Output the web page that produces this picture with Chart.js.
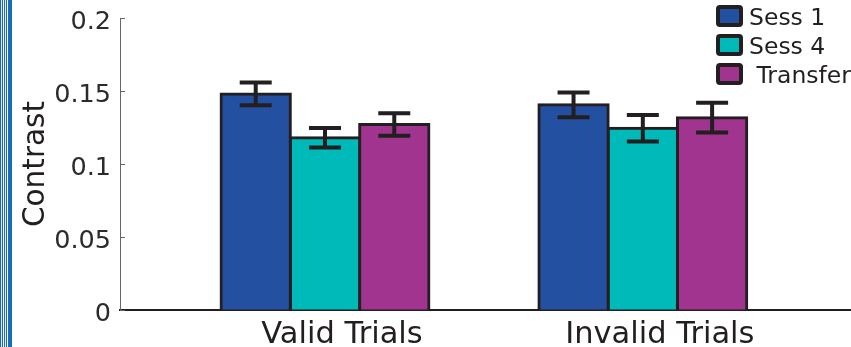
<!DOCTYPE html>
<html>
<head>
<meta charset="utf-8">
<script src="https://cdn.jsdelivr.net/npm/chart.js@4.4.1/dist/chart.umd.min.js"></script>
<style>
  html, body { margin: 0; padding: 0; background: #fff; }
  #wrap { position: relative; width: 851px; height: 347px; }
  #edge {
    position: absolute; left: 0; top: 0; width: 12px; height: 347px;
    background: linear-gradient(to right,
      #1a6db5 0 1px, #d6e6f4 1px 2px, #1a6db5 2px 3px, #fff 3px 4px,
      #1a6db5 4px 5px, #e2ecf6 5px 6px, #1a6db5 6px 7px, #fff 7px 8px,
      #1a6db5 8px 12px);
  }
</style>
</head>
<body>
<div id="wrap">
  <canvas id="chart"></canvas>
  <div id="edge"></div>
</div>
<script>
// ── Data ─────────────────────────────────────────────
const categories = ["Valid Trials", "Invalid Trials"];
const categoryX = [1, 2];
const seriesLabels = ["Sess 1", "Sess 4", " Transfer"];
const sess1 = [0.148, 0.1405];
const sess4 = [0.118, 0.1245];
const transfer = [0.127, 0.1317];
const sess1Err = [0.0078, 0.0085];
const sess4Err = [0.0067, 0.0091];
const transferErr = [0.0077, 0.0102];
const yTicks = [0, 0.05, 0.1, 0.15, 0.2];

const colors = ["#2350a0", "#00b9b9", "#a0348e"];
const ink = "#231f20";
const FONT = "'DejaVu Sans', sans-serif";

const toPoints = (vals) => vals.map((v, i) => ({ x: categoryX[i], y: v }));
const series = [sess1, sess4, transfer];
const errors = [sess1Err, sess4Err, transferErr];

// error bars drawn from the y scale
const errorBars = {
  id: "errorBars",
  afterDatasetsDraw(chart) {
    const { ctx } = chart;
    const yScale = chart.scales.y;
    ctx.save();
    ctx.strokeStyle = ink;
    ctx.lineWidth = 4;
    chart.data.datasets.forEach((ds, i) => {
      const meta = chart.getDatasetMeta(i);
      meta.data.forEach((bar, j) => {
        const v = ds.data[j].y;
        const e = ds.errors[j];
        const top = yScale.getPixelForValue(v + e);
        const bot = yScale.getPixelForValue(v - e);
        const half = 16;
        ctx.beginPath();
        ctx.moveTo(bar.x, top); ctx.lineTo(bar.x, bot);
        ctx.moveTo(bar.x - half, top); ctx.lineTo(bar.x + half, top);
        ctx.moveTo(bar.x - half, bot); ctx.lineTo(bar.x + half, bot);
        ctx.stroke();
      });
    });
    ctx.restore();
  },
};

// inward ticks on the y axis
const innerTicks = {
  id: "innerTicks",
  afterDraw(chart) {
    const { ctx, chartArea } = chart;
    const yScale = chart.scales.y;
    ctx.save();
    ctx.strokeStyle = "#666";
    ctx.lineWidth = 1;
    yScale.ticks.forEach((t, i) => {
      const y = Math.round(yScale.getPixelForTick(i)) + 0.5;
      ctx.beginPath();
      ctx.moveTo(chartArea.left, y);
      ctx.lineTo(chartArea.left + 5, y);
      ctx.stroke();
    });
    ctx.restore();
  },
};

// boxed legend in the top right corner
const boxLegend = {
  id: "boxLegend",
  afterDraw(chart) {
    const { ctx } = chart;
    const x0 = chart.width - 135;
    ctx.save();
    ctx.font = "23.5px " + FONT;
    ctx.textBaseline = "alphabetic";
    chart.data.datasets.forEach((ds, i) => {
      const top = 5 + i * 29;
      ctx.fillStyle = ds.backgroundColor;
      ctx.strokeStyle = ink;
      ctx.lineWidth = 4;
      ctx.beginPath();
      ctx.roundRect(x0 + 2, top + 2, 23, 18, 2);
      ctx.fill();
      ctx.stroke();
      ctx.fillStyle = ink;
      ctx.fillText(ds.label, x0 + 33, top + 20);
    });
    ctx.restore();
  },
};

new Chart(document.getElementById("chart"), {
  type: "bar",
  data: {
    datasets: seriesLabels.map((label, i) => ({
      label,
      data: toPoints(series[i]),
      errors: errors[i],
      backgroundColor: colors[i],
      borderColor: ink,
      borderWidth: 3,
      inflateAmount: 1.5,
      categoryPercentage: 0.654,
      barPercentage: 1,
    })),
  },
  options: {
    responsive: true,
    maintainAspectRatio: false,
    animation: false,
    layout: { padding: { top: 18, right: 0, bottom: 0, left: 0 } },
    plugins: { legend: { display: false }, tooltip: { enabled: false } },
    scales: {
      x: {
        type: "linear",
        offset: false,
        min: 0.355,
        max: 2.655,
        afterBuildTicks: (scale) => { scale.ticks = categoryX.map((v) => ({ value: v })); },
        afterFit: (scale) => { scale.height = 37; scale.paddingLeft = 0; scale.paddingRight = 0; },
        ticks: {
          callback: (v) => categories[categoryX.indexOf(v)] ?? "",
          font: { family: FONT, size: 30.5 },
          color: ink,
          padding: 7,
          labelOffset: 17,
          maxRotation: 0,
        },
        grid: { drawOnChartArea: false, drawTicks: false, offset: false },
        border: { color: ink, width: 2 },
      },
      y: {
        min: 0,
        max: 0.2,
        afterBuildTicks: (scale) => { scale.ticks = yTicks.map((v) => ({ value: v })); },
        afterFit: (scale) => { scale.width = 120; scale.paddingTop = 0; scale.paddingBottom = 0; },
        ticks: {
          callback: (v) => String(v),
          font: { family: FONT, size: 25.5 },
          color: "#2b2b2b",
          padding: 9,
          labelOffset: 4,
        },
        grid: { drawOnChartArea: false, drawTicks: false },
        border: { color: "#666", width: 1 },
        title: {
          display: true,
          text: "Contrast",
          font: { family: FONT, size: 29.5 },
          color: ink,
          padding: { top: 19, bottom: 0 },
        },
      },
    },
  },
  plugins: [errorBars, innerTicks, boxLegend],
});
</script>
</body>
</html>
